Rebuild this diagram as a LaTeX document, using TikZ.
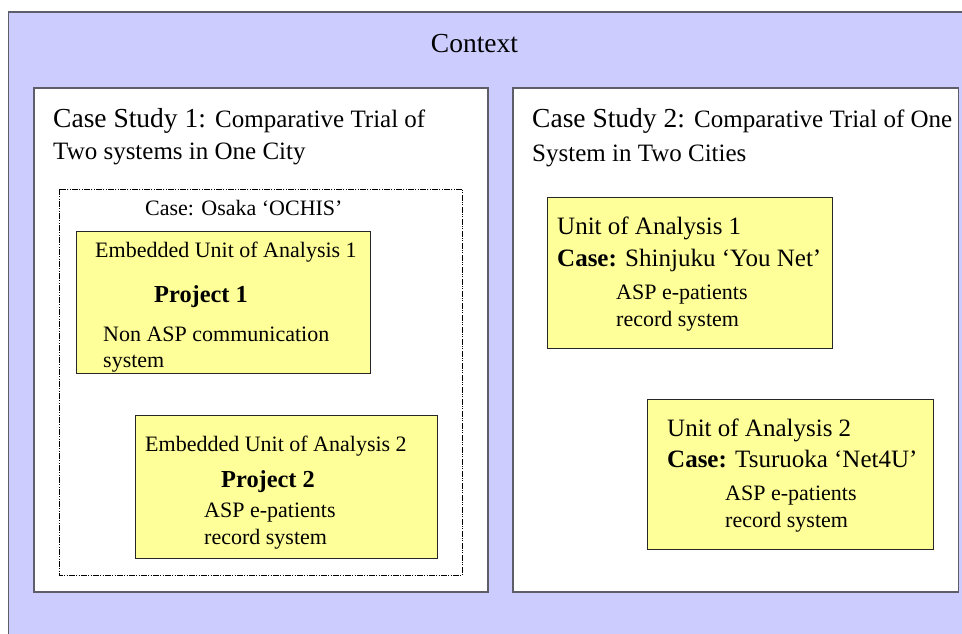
\documentclass[tikz,border=0pt]{standalone}
\usepackage{fontspec}
\setmainfont{Liberation Serif}
\definecolor{lav}{HTML}{CCCCFF}
\definecolor{yel}{HTML}{FFFF99}
\definecolor{edgegray}{HTML}{5E5E6A}
\newcommand{\fsA}{\fontsize{27.5}{33}\selectfont}
\newcommand{\fsB}{\fontsize{25}{30}\selectfont}
\newcommand{\fsC}{\fontsize{22}{26}\selectfont}
\newcommand{\fsD}{\fontsize{24.4}{29}\selectfont}
\begin{document}
\begin{tikzpicture}[x=1pt,y=-1pt,
  ctxbox/.style={draw=edgegray, line width=1.2pt, fill=lav},
  studybox/.style={draw=edgegray, line width=1.2pt, fill=white},
  unitbox/.style={draw=black!85, line width=1pt, fill=yel},
  casebox/.style={draw=black, line width=0.7pt, dash pattern=on 6pt off 1.2pt on 1.2pt off 1.2pt on 1.2pt off 1.2pt},
  txt/.style={anchor=base west, inner sep=0pt}
]
\useasboundingbox (0,0) rectangle (962,634);
\fill[white] (0,0) rectangle (962,634);
% context
\draw[ctxbox] (8.7,12) rectangle (980,660);
\node[anchor=base, inner sep=0pt, font=\fsA] (context) at (474.5,53) {Context};
% case study boxes
\draw[studybox] (34,88) rectangle (488,592);
\draw[studybox] (513,88) rectangle (958.5,592);
\node[txt, font=\fsA] (cs1a) at (53,128) {Case Study 1: {\fsB Comparative Trial of}};
\node[txt, font=\fsB] (cs1b) at (53,159) {Two systems in One City};
\node[txt, font=\fsA] (cs2a) at (532,128) {Case Study 2: {\fsB Comparative Trial of One}};
\node[txt, font=\fsB] (cs2b) at (532,161) {System in Two Cities};
% Osaka case
\draw[casebox] (59,189) rectangle (462.5,575);
\node[txt, font=\fsC] (osaka) at (145,215) {Case: Osaka ‘OCHIS’};
% embedded unit 1
\draw[unitbox] (76,231) rectangle (370,373);
\node[txt, font=\fsC] (e1a) at (95,257) {Embedded Unit of Analysis 1};
\node[txt, font=\fsD\bfseries] (e1b) at (154,302) {Project 1};
\node[txt, font=\fsC] (e1c) at (103,341) {Non ASP communication};
\node[txt, font=\fsC] (e1d) at (103,367) {system};
% embedded unit 2
\draw[unitbox] (135,415) rectangle (437,558);
\node[txt, font=\fsC] (e2a) at (145,451) {Embedded Unit of Analysis 2};
\node[txt, font=\fsD\bfseries] (e2b) at (221,487) {Project 2};
\node[txt, font=\fsC] (e2c) at (204,517) {ASP e-patients};
\node[txt, font=\fsC] (e2d) at (204,544) {record system};
% unit of analysis 1
\draw[unitbox] (547,197) rectangle (832,348);
\node[txt, font=\fsB] (u1a) at (557,234) {Unit of Analysis 1};
\node[txt, font=\fsB] (u1b) at (557,266) {\textbf{Case:} Shinjuku ‘You Net’};
\node[txt, font=\fsC] (u1c) at (616,299) {ASP e-patients};
\node[txt, font=\fsC] (u1d) at (616,326) {record system};
% unit of analysis 2
\draw[unitbox] (647,399) rectangle (933,549);
\node[txt, font=\fsB] (u2a) at (667,436) {Unit of Analysis 2};
\node[txt, font=\fsB] (u2b) at (667,467) {\textbf{Case:} Tsuruoka ‘Net4U’};
\node[txt, font=\fsC] (u2c) at (725,500) {ASP e-patients};
\node[txt, font=\fsC] (u2d) at (725,527) {record system};
\end{tikzpicture}
\end{document}
